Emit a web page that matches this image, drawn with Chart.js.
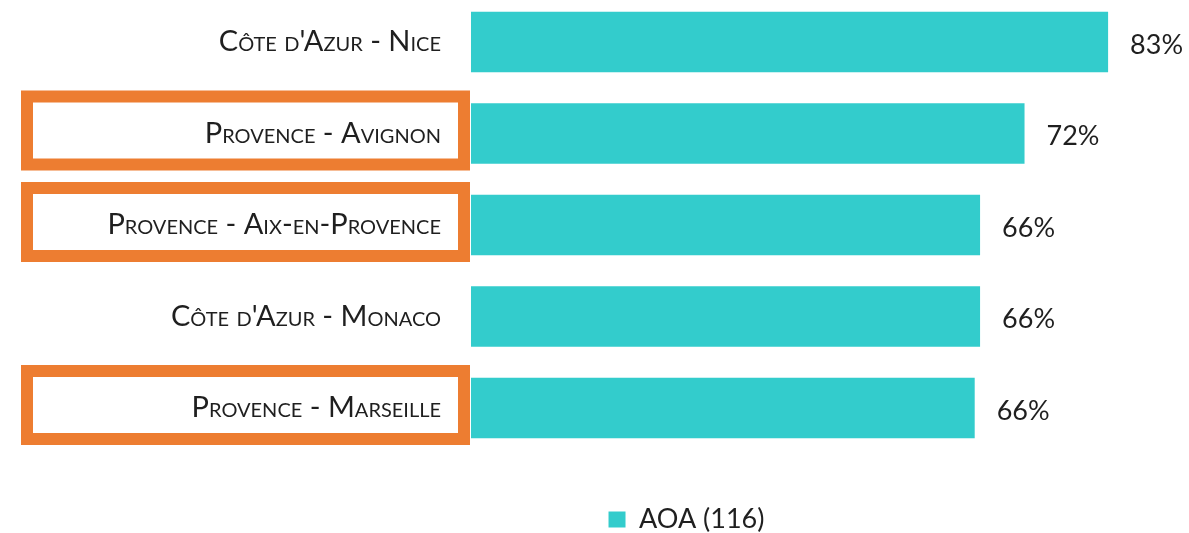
<!DOCTYPE html>
<html>
<head>
<meta charset="utf-8">
<script src="https://cdn.jsdelivr.net/npm/chart.js@4/dist/chart.umd.min.js"></script>
<style>
  html, body { margin: 0; padding: 0; background: #fff; }
  #wrap { width: 1189px; height: 533px; }
</style>
</head>
<body>
<div id="wrap"><canvas id="chart"></canvas></div>
<script>
// data
const destinations = ['Côte d\'Azur - Nice', 'Provence - Avignon', 'Provence - Aix-en-Provence', 'Côte d\'Azur - Monaco', 'Provence - Marseille'];
const aoaShare = [83.1, 72.2, 66.4, 66.4, 65.7];
const seriesName = 'AOA (116)';
const highlighted = ['Provence - Avignon', 'Provence - Aix-en-Provence', 'Provence - Marseille'];

const TEAL = '#33CCCC';
const ORANGE = '#ED7D31';
const TEXT = '#1f1f1f';
const FONT = 'Lato, "Open Sans", sans-serif';

// value labels right of each bar
const valueLabels = {
  id: 'valueLabels',
  afterDatasetsDraw(chart) {
    const ctx = chart.ctx;
    const meta = chart.getDatasetMeta(0);
    ctx.save();
    ctx.font = '27px ' + FONT;
    ctx.fillStyle = TEXT;
    ctx.textAlign = 'left';
    ctx.textBaseline = 'middle';
    meta.data.forEach((bar, i) => {
      ctx.fillText(Math.round(aoaShare[i]) + '%', bar.x + 22, bar.y + 3);
    });
    ctx.restore();
  }
};

// orange frames round some category labels
const frames = {
  id: 'frames',
  afterDraw(chart) {
    const ctx = chart.ctx;
    const y = chart.scales.y;
    const left = chart.chartArea.left - 444;
    const right = chart.chartArea.left - 7;
    ctx.save();
    ctx.strokeStyle = ORANGE;
    ctx.lineWidth = 12;
    highlighted.forEach(name => {
      const cy = y.getPixelForValue(destinations.indexOf(name)) - 3;
      ctx.strokeRect(left, cy - 34, right - left, 68);
    });
    ctx.restore();
  }
};

// centre the legend under the labelled part of the chart, not the whole canvas
const legendShift = {
  id: 'legendShift',
  afterLayout(chart) {
    chart.legend.left += 106;
    chart.legend.right += 106;
  }
};

new Chart(document.getElementById('chart'), {
  type: 'bar',
  data: {
    labels: destinations,
    datasets: [{
      label: seriesName,
      data: aoaShare,
      backgroundColor: TEAL,
      borderWidth: 0,
      categoryPercentage: 1,
      barPercentage: 0.66,
      clip: false
    }]
  },
  options: {
    indexAxis: 'y',
    responsive: true,
    maintainAspectRatio: false,
    animation: false,
    layout: { padding: { left: 0, right: 28, top: 42, bottom: -10 } },
    scales: {
      x: {
        display: false,
        min: 0,
        max: 90
      },
      y: {
        offset: false,
        grid: { display: false, drawTicks: true, tickLength: 27 },
        border: { display: false },
        ticks: {
          padding: 3,
          color: TEXT,
          font: { family: FONT, size: 29, weight: 'small-caps' }
        },
        afterFit(scale) { scale.width = 471; }
      }
    },
    plugins: {
      legend: {
        position: 'bottom',
        title: { display: true, text: '', font: { size: 10 }, padding: { top: 0, bottom: 76 } },
        labels: {
          boxWidth: 17,
          boxHeight: 16,
          padding: 10,
          color: TEXT,
          font: { family: FONT, size: 27 }
        }
      },
      tooltip: { enabled: false }
    }
  },
  plugins: [valueLabels, frames, legendShift]
});
</script>
</body>
</html>
